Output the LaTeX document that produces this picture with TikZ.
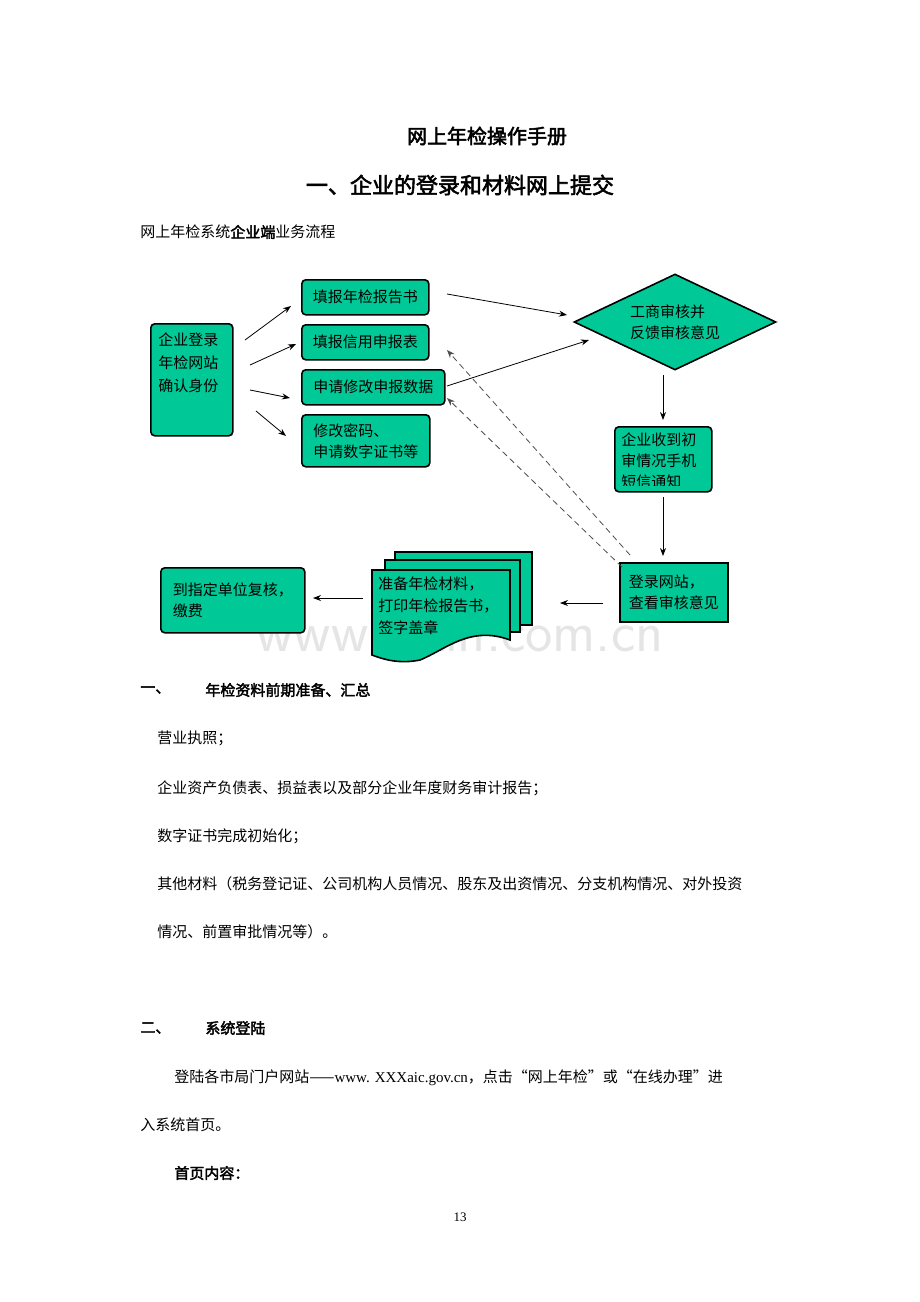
\documentclass[tikz,border=0pt]{standalone}
\usepackage{fontspec}
\setmainfont{Liberation Serif}
\newfontfamily\cjk[AutoFakeBold=2.5]{Noto Sans CJK SC}
\usetikzlibrary{arrows.meta,shapes.geometric}
\definecolor{boxgreen}{RGB}{0,200,150}
\tikzset{
  px/.style={x=0.5pt,y=-0.5pt},
  stepbox/.style={draw=black,fill=boxgreen,rounded corners=2pt,thick,align=left,inner sep=3pt,anchor=north west,font=\cjk\fontsize{7.5}{10.5}\selectfont},
  flow/.style={-{Stealth[length=4pt]},thin},
  back/.style={flow,densely dashed,draw=black!70},
  body/.style={anchor=west,inner sep=0pt,font=\cjk\fontsize{7.5}{9}\selectfont},
}
\begin{document}
\begin{tikzpicture}[px]
\useasboundingbox (0,0) rectangle (920,1302);
% headings
\node[font=\cjk\bfseries\fontsize{10}{12}\selectfont] (title) at (487,136) {网上年检操作手册};
\node[font=\cjk\bfseries\fontsize{11}{13}\selectfont] (sec1) at (460,185) {一、企业的登录和材料网上提交};
\node[body] (cap) at (140,232) {网上年检系统{\bfseries 企业端}业务流程};
% watermark
\node[font=\sffamily\fontsize{29}{30}\selectfont,text=black!10] (wm) at (460,633) {www.zixin.com.cn};
% flow boxes
\node[stepbox,minimum width=41pt,minimum height=56pt] (login) at (150,323) {};
\node[anchor=north west,inner sep=0pt,align=left,font=\cjk\fontsize{7.5}{11.5}\selectfont] (logintext) at (158,332) {企业登录\\年检网站\\确认身份};
\node[stepbox,minimum width=63.5pt,minimum height=17.5pt] (report) at (301,279) {填报年检报告书};
\node[stepbox,minimum width=63.5pt,minimum height=17.5pt] (credit) at (301,324) {填报信用申报表};
\node[stepbox,minimum width=71.5pt,minimum height=17.5pt] (modify) at (301,369) {申请修改申报数据};
\node[stepbox,minimum width=64pt,minimum height=26pt,inner sep=2pt] (passwd) at (301,414) {修改密码、\\申请数字证书等};
\node[diamond,draw=black,fill=boxgreen,thick,minimum width=101pt,minimum height=48pt,aspect=2.1,inner sep=0pt,align=left,font=\cjk\fontsize{7.5}{10.5}\selectfont] (check) at (675,322) {工商审核并\\反馈审核意见};
\node[stepbox,minimum width=48.5pt,minimum height=32.5pt] (sms) at (614,426) {};
\begin{scope}
\clip (617,428) rectangle (709,485);
\node[anchor=north west,inner sep=0pt,align=left,font=\cjk\fontsize{7.5}{10.5}\selectfont] (smstext) at (621,432) {企业收到初\\审情况手机\\短信通知};
\end{scope}
\node[stepbox,rounded corners=0pt,minimum width=54pt,minimum height=29.5pt,inner sep=3pt] (view) at (619,562) {登录网站，\\查看审核意见};
% document stack
\draw[fill=boxgreen,thick] (395,552) rectangle (532,625);
\draw[fill=boxgreen,thick] (385,560) rectangle (520,632);
\draw[fill=boxgreen,thick] (372,570) -- (510,570) -- (510,640) .. controls (470,625) and (445,650) .. (420,660) .. controls (400,664) and (385,660) .. (372,655) -- cycle;
\node[anchor=north west,inner sep=0pt,align=left,font=\cjk\fontsize{7.5}{11}\selectfont] (prep) at (378,576) {准备年检材料，\\打印年检报告书，\\签字盖章};
\node[stepbox,minimum width=72pt,minimum height=32.5pt] (pay) at (160,567) {到指定单位复核，\\缴费};
% connectors
\coordinate (l1) at (245,340); \coordinate (l2) at (250,365); \coordinate (l3) at (250,390); \coordinate (l4) at (256,411);
\coordinate (r1) at (447,294); \coordinate (r3) at (447,386);
\coordinate (c1) at (663,375); \coordinate (c2) at (663,497);
\coordinate (v1) at (603,603); \coordinate (p1) at (363,598);
\coordinate (d1) at (630,555); \coordinate (d2) at (622,567);
\draw[flow] (l1) -- (291,306);
\draw[flow] (l2) -- (296,344);
\draw[flow] (l3) -- (290,398);
\draw[flow] (l4) -- (286,436);
\draw[flow] (r1) -- (567,315);
\draw[flow] (r3) -- (589,340);
\draw[back] (d1) -- (447,350);
\draw[back] (d2) -- (447,398);
\draw[flow] (c1) -- (663,420);
\draw[flow] (c2) -- (663,556);
\draw[flow] (v1) -- (560,603);
\draw[flow] (p1) -- (313,598);
% body text
\node[body,font=\cjk\bfseries\fontsize{7.5}{9}\selectfont] (s1a) at (140,690) {一、};
\node[body,font=\cjk\bfseries\fontsize{7.5}{9}\selectfont] (s1b) at (205,690) {年检资料前期准备、汇总};
\node[body] (t1) at (157,738) {营业执照；};
\node[body] (t2) at (157,788) {企业资产负债表、损益表以及部分企业年度财务审计报告；};
\node[body] (t3) at (157,836) {数字证书完成初始化；};
\node[body] (t4) at (157,884) {其他材料（税务登记证、公司机构人员情况、股东及出资情况、分支机构情况、对外投资};
\node[body] (t5) at (157,932) {情况、前置审批情况等）。};
\node[body,font=\cjk\bfseries\fontsize{7.5}{9}\selectfont] (s2a) at (140,1028) {二、};
\node[body,font=\cjk\bfseries\fontsize{7.5}{9}\selectfont] (s2b) at (205,1028) {系统登陆};
\node[body] (t6) at (174,1078) {登陆各市局门户网站——\rmfamily www. XXXaic.gov.cn\cjk，点击“网上年检”或“在线办理”进};
\node[body] (t7) at (140,1125) {入系统首页。};
\node[body,font=\cjk\bfseries\fontsize{7.5}{9}\selectfont] (t8) at (174,1173) {首页内容：};
\node[font=\rmfamily\fontsize{6.5}{8}\selectfont] (pg) at (460,1217) {13};
\end{tikzpicture}
\end{document}
